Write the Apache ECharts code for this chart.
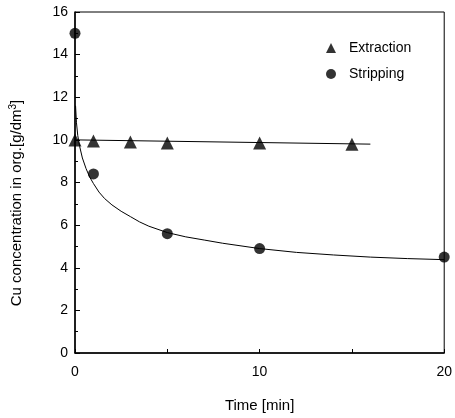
<!DOCTYPE html>
<html><head><meta charset="utf-8">
<script src="https://cdn.jsdelivr.net/npm/echarts@6/dist/echarts.min.js"></script>
<style>html,body{margin:0;padding:0;background:#fff}#c{width:455px;height:418px}</style>
</head><body><div id="c"></div>
<script>
var extractionTime = [0, 1, 3, 5, 10, 15];
var extractionConc = [10.0, 9.95, 9.9, 9.85, 9.85, 9.8];
var extractionFitTime = [0, 16];
var extractionFitConc = [10.0, 9.8];
var strippingTime = [0, 1, 5, 10, 20];
var strippingConc = [15.0, 8.4, 5.6, 4.9, 4.5];
var strippingFitTime = [0.03, 0.08, 0.15, 0.25, 0.4, 0.6, 0.8, 1, 1.3, 1.6, 2, 2.5, 3, 3.5, 4, 5, 6, 7, 8, 10, 12, 14, 16, 18, 20];
var strippingFitConc = [11.6, 10.8, 10.2, 9.7, 9.15, 8.65, 8.25, 7.95, 7.55, 7.25, 6.95, 6.65, 6.4, 6.15, 5.95, 5.65, 5.45, 5.3, 5.15, 4.9, 4.72, 4.6, 4.5, 4.43, 4.38];
var xTicks = [0, 10, 20];
var yTicks = [0, 2, 4, 6, 8, 10, 12, 14, 16];

function zip(a, b) { return a.map(function (v, i) { return [v, b[i]]; }); }
var font = 'Liberation Sans, Arial, sans-serif';
var chart = echarts.init(document.getElementById('c'), null, {renderer: 'canvas'});
chart.setOption({
  animation: false,
  backgroundColor: '#fff',
  grid: {left: 75, right: 8, top: 12, bottom: 64, show: true, borderColor: '#000', borderWidth: 1},
  legend: {
    orient: 'vertical', left: 321, top: 36, itemGap: 12, itemWidth: 10, itemHeight: 10,
    textStyle: {fontFamily: font, fontSize: 14, color: '#000', padding: [0, 0, 0, 8]},
    data: [{name: 'Extraction', icon: 'triangle'}, {name: 'Stripping', icon: 'circle'}]
  },
  graphic: [{
    type: 'text', x: 17, y: 203, rotation: Math.PI / 2,
    style: {
      text: '{n|Cu concentration in org.[g/dm}{s|3}{n|]}',
      align: 'center', verticalAlign: 'middle',
      rich: {n: {fontFamily: font, fontSize: 15, fill: '#000'},
             s: {fontFamily: font, fontSize: 10, fill: '#000', verticalAlign: 'top', padding: [0, 0, 8, 0]}}
    }
  }],
  xAxis: {
    type: 'value', min: 0, max: 20, interval: 5,
    name: 'Time [min]', nameLocation: 'middle', nameGap: 45,
    nameTextStyle: {fontFamily: font, fontSize: 15, color: '#000'},
    axisLine: {lineStyle: {color: '#000', width: 1.5}},
    axisTick: {inside: true, length: 4, lineStyle: {color: '#000'}},
    splitLine: {show: false},
    axisLabel: {fontFamily: font, fontSize: 14, color: '#000', margin: 12,
      formatter: function (v) { return xTicks.indexOf(v) >= 0 ? String(v) : ''; }}
  },
  yAxis: {
    type: 'value', min: 0, max: 16, interval: 2,
    axisLine: {lineStyle: {color: '#000', width: 1.5}},
    axisTick: {inside: true, length: 5, lineStyle: {color: '#000'}},
    minorTick: {show: true, splitNumber: 2, length: 3, lineStyle: {color: '#000'}},
    splitLine: {show: false},
    axisLabel: {fontFamily: font, fontSize: 14, color: '#000', margin: 7,
      formatter: function (v) { return yTicks.indexOf(v) >= 0 ? String(v) : ''; }}
  },
  series: [
    {name: 'ExtractionFit', type: 'line', data: zip(extractionFitTime, extractionFitConc), symbol: 'none',
     lineStyle: {color: '#000', width: 1}, silent: true, z: 1},
    {name: 'StrippingFit', type: 'line', data: zip(strippingFitTime, strippingFitConc), symbol: 'none', smooth: false,
     lineStyle: {color: '#000', width: 1}, silent: true, z: 1},
    {name: 'Extraction', type: 'scatter', data: zip(extractionTime, extractionConc), symbol: 'triangle', symbolSize: 13,
     itemStyle: {color: '#000'}, z: 3},
    {name: 'Stripping', type: 'scatter', data: zip(strippingTime, strippingConc), symbol: 'circle', symbolSize: 11,
     itemStyle: {color: '#000'}, z: 3}
  ]
});
</script></body></html>
